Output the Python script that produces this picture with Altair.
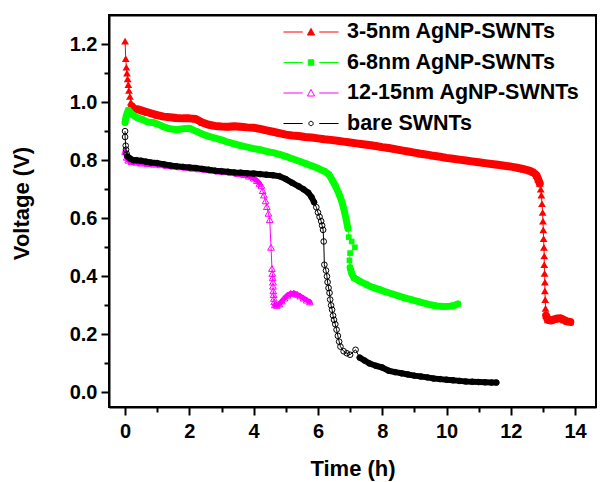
import altair as alt
import pandas as pd

SERIES = ["3-5nm AgNP-SWNTs", "6-8nm AgNP-SWNTs", "12-15nm AgNP-SWNTs", "bare SWNTs"]

X_TICKS = [0, 2, 4, 6, 8, 10, 12, 14]
X_MINOR = [1, 3, 5, 7, 9, 11, 13]
Y_TICKS = [0.0, 0.2, 0.4, 0.6, 0.8, 1.0, 1.2]
Y_MINOR = [0.1, 0.3, 0.5, 0.7, 0.9, 1.1]
X_RANGE = [-0.5, 14.65]
Y_RANGE = [-0.05, 1.3]

red_t = [0.00, 0.02, 0.04, 0.06, 0.08, 0.10, 0.12, 0.15, 0.18, 0.22, 0.28, 0.40, 0.55, 0.70, 0.85,
         1.00, 1.20, 1.40, 1.60, 1.80, 2.00, 2.20, 2.40, 2.60, 2.80, 3.00, 3.20, 3.40, 3.60, 3.80,
         4.00, 4.20, 4.40, 4.60, 4.80, 5.00, 5.20, 5.40, 5.60, 5.80, 6.00, 6.20, 6.40, 6.60, 6.80,
         7.00, 7.20, 7.40, 7.60, 7.80, 8.00, 8.20, 8.40, 8.60, 8.80, 9.00, 9.20, 9.40, 9.60, 9.80,
         10.00, 10.20, 10.40, 10.60, 10.80, 11.00, 11.20, 11.40, 11.60, 11.80, 12.00, 12.20, 12.40,
         12.60, 12.70, 12.80, 12.85, 12.90, 12.93, 12.95, 12.97, 12.99, 13.00, 13.01, 13.02, 13.03,
         13.04, 13.04, 13.05, 13.06, 13.06, 13.07, 13.08, 13.10, 13.15, 13.25, 13.35, 13.45, 13.55,
         13.65, 13.75, 13.85]
red_v = [1.21, 1.15, 1.12, 1.10, 1.08, 1.06, 1.04, 1.02, 1.00, 0.985, 0.975, 0.975, 0.970, 0.965, 0.960,
         0.955, 0.950, 0.948, 0.945, 0.944, 0.944, 0.942, 0.930, 0.922, 0.918, 0.916, 0.915, 0.917, 0.915, 0.913,
         0.912, 0.908, 0.903, 0.898, 0.893, 0.888, 0.885, 0.883, 0.880, 0.878, 0.875, 0.872, 0.870, 0.867, 0.864,
         0.861, 0.858, 0.855, 0.852, 0.849, 0.845, 0.842, 0.838, 0.834, 0.830, 0.826, 0.822, 0.819, 0.815, 0.812,
         0.808, 0.805, 0.802, 0.799, 0.796, 0.793, 0.790, 0.787, 0.784, 0.781, 0.778, 0.774, 0.769,
         0.763, 0.758, 0.748, 0.735, 0.720, 0.700, 0.680, 0.650, 0.620, 0.590, 0.560, 0.530, 0.500,
         0.470, 0.440, 0.410, 0.380, 0.350, 0.320, 0.290, 0.265, 0.250, 0.248, 0.252, 0.255, 0.256,
         0.250, 0.245, 0.243]

green_t = [0.00, 0.03, 0.06, 0.10, 0.15, 0.25, 0.40, 0.55, 0.70, 0.85, 1.00, 1.20, 1.40, 1.60, 1.80,
           2.00, 2.20, 2.40, 2.60, 2.80, 3.00, 3.20, 3.40, 3.60, 3.80, 4.00, 4.20, 4.40, 4.60, 4.80,
           5.00, 5.20, 5.40, 5.60, 5.80, 6.00, 6.20, 6.35, 6.45, 6.55, 6.65, 6.75, 6.82, 6.88, 6.93,
           6.96, 7.05, 7.15, 7.00, 6.98, 7.00, 7.05, 7.12, 7.30, 7.50, 7.70, 7.90, 8.10, 8.30, 8.50,
           8.70, 8.90, 9.10, 9.30, 9.50, 9.70, 9.90, 10.10, 10.25, 10.35]
green_v = [0.930, 0.950, 0.960, 0.972, 0.965, 0.955, 0.945, 0.940, 0.932, 0.930, 0.925, 0.915, 0.908, 0.905, 0.908,
           0.910, 0.900, 0.890, 0.882, 0.876, 0.870, 0.862, 0.856, 0.850, 0.845, 0.840, 0.836, 0.830, 0.826, 0.820,
           0.813, 0.805, 0.797, 0.789, 0.781, 0.772, 0.762, 0.750, 0.730, 0.710, 0.685, 0.655, 0.625, 0.595, 0.565,
           0.535, 0.520, 0.500, 0.480, 0.455, 0.430, 0.410, 0.395, 0.383, 0.372, 0.362, 0.355, 0.347, 0.340, 0.333,
           0.326, 0.320, 0.314, 0.308, 0.302, 0.298, 0.296, 0.297, 0.300, 0.305]

magenta_t = [0.00, 0.05, 0.10, 0.20, 0.35, 0.50, 0.70, 0.90, 1.10, 1.30, 1.50, 1.70, 1.90, 2.10, 2.30,
             2.50, 2.70, 2.90, 3.10, 3.30, 3.50, 3.70, 3.85, 4.00, 4.10, 4.18, 4.24, 4.28, 4.32, 4.37,
             4.41, 4.46, 4.50, 4.54, 4.57, 4.58, 4.59, 4.60, 4.60, 4.61, 4.62, 4.63, 4.64, 4.66, 4.72,
             4.80, 4.88, 4.96, 5.05, 5.15, 5.25, 5.35, 5.45, 5.55, 5.65, 5.75]
magenta_v = [0.830, 0.810, 0.800, 0.795, 0.793, 0.790, 0.788, 0.786, 0.784, 0.781, 0.779, 0.777, 0.775, 0.772, 0.770,
             0.768, 0.765, 0.762, 0.760, 0.757, 0.754, 0.750, 0.745, 0.738, 0.730, 0.720, 0.713, 0.695, 0.680, 0.660,
             0.640, 0.617, 0.595, 0.500, 0.427, 0.410, 0.395, 0.380, 0.366, 0.350, 0.337, 0.324, 0.312, 0.302, 0.300,
             0.305, 0.315, 0.325, 0.335, 0.341, 0.342, 0.338, 0.332, 0.325, 0.318, 0.312]

black_t = [0.00, 0.00, 0.02, 0.03, 0.05, 0.08, 0.15, 0.25, 0.35, 0.50, 0.65, 0.80, 1.00, 1.20, 1.40,
           1.60, 1.80, 2.00, 2.20, 2.40, 2.60, 2.80, 3.00, 3.20, 3.40, 3.60, 3.80, 4.00, 4.20, 4.40,
           4.60, 4.80, 5.00, 5.20, 5.40, 5.55, 5.70, 5.80, 5.88, 5.95, 6.00, 6.05, 6.10, 6.13, 6.16,
           6.18, 6.20, 6.25, 6.28, 6.30, 6.33, 6.36, 6.38, 6.41, 6.44, 6.47, 6.50, 6.54, 6.58, 6.62,
           6.66, 6.70, 6.80, 6.90, 7.00, 7.17, 7.30, 7.45, 7.60, 7.80, 8.00, 8.20, 8.40, 8.60, 8.80,
           9.00, 9.20, 9.40, 9.60, 9.80, 10.00, 10.20, 10.40, 10.60, 10.80, 11.00, 11.20, 11.40, 11.55]
black_v = [0.900, 0.880, 0.850, 0.836, 0.822, 0.812, 0.806, 0.800, 0.800, 0.798, 0.795, 0.792, 0.790, 0.786, 0.782,
           0.779, 0.777, 0.775, 0.773, 0.770, 0.767, 0.764, 0.762, 0.760, 0.758, 0.757, 0.755, 0.754, 0.752, 0.750,
           0.748, 0.745, 0.735, 0.722, 0.710, 0.700, 0.688, 0.673, 0.655, 0.638, 0.620, 0.605, 0.590, 0.575, 0.560,
           0.520, 0.440, 0.420, 0.400, 0.380, 0.360, 0.343, 0.320, 0.300, 0.285, 0.265, 0.250, 0.235, 0.216, 0.195,
           0.175, 0.158, 0.142, 0.135, 0.130, 0.147, 0.120, 0.110, 0.100, 0.092, 0.086, 0.075, 0.070, 0.066, 0.062,
           0.058, 0.055, 0.052, 0.048, 0.046, 0.044, 0.042, 0.040, 0.038, 0.037, 0.036, 0.035, 0.034, 0.034]

# style per series
COLORS = ["#ff0000", "#00ff00", "#ff00ff", "#000000"]
MARKERS = ["triangle-up", "square", "triangle-up", "circle"]
FILLED = [True, True, False, False]
SIZES = [60, 32, 45, 32]
BAND_W = [8, 7, 5, 6]                      # densely packed markers look like a thick band
BANDS = [[(9, 77), (93, 101)], [(0, 44), (50, 69)], [(0, 25), (43, 55)], [(5, 38), (66, 88)]]
LEGEND_PATHS = [
    "M-1,0H-0.3M0.3,0H1M-0.13,0.11L0,-0.13L0.13,0.11Z",
    "M-1,0H-0.3M0.3,0H1M-0.1,-0.1H0.1V0.1H-0.1Z",
    "M-1,0H-0.3M0.3,0H1M-0.13,0.11L0,-0.13L0.13,0.11Z",
    "M-1,0H-0.3M0.3,0H1M0.08,0A0.08,0.08,0,1,1,-0.08,0A0.08,0.08,0,1,1,0.08,0Z",
]
LEGEND_FILLS = ["#ff0000", "#00ff00", "transparent", "transparent"]

data = [(red_t, red_v), (green_t, green_v), (magenta_t, magenta_v), (black_t, black_v)]

FONT = "Liberation Sans"
W, H = 487, 392

xs = alt.Scale(domain=X_RANGE, nice=False, zero=False)
ys = alt.Scale(domain=Y_RANGE, nice=False, zero=False)
xaxis = alt.Axis(values=X_TICKS, title="Time (h)", labelPadding=6, titlePadding=17)
yaxis = alt.Axis(values=Y_TICKS, format=".1f", title="Voltage (V)", labelPadding=4, titlePadding=36, titleY=188)
XE = alt.X("t:Q", scale=xs, axis=xaxis)
YE = alt.Y("v:Q", scale=ys, axis=yaxis)

# ---- main layer: data curves + legend, with the bottom/left axes
main_layers = []
for k, (tt, vv) in enumerate(data):
    df = pd.DataFrame({"t": tt, "v": vv, "i": list(range(len(tt)))})
    base = alt.Chart(df)
    for (a, b) in BANDS[k]:
        band = base.transform_filter(alt.FieldRangePredicate(field="i", range=[a, b])).mark_line(
            strokeWidth=BAND_W[k], color=COLORS[k], strokeJoin="round", strokeCap="round"
        ).encode(x=XE, y=YE, order="i:Q")
        main_layers.append(band)
    line = base.mark_line(strokeWidth=1, color=COLORS[k]).encode(x=XE, y=YE, order="i:Q")
    pts = base.mark_point(shape=MARKERS[k], filled=FILLED[k], size=SIZES[k], color=COLORS[k],
                          strokeWidth=1, opacity=1).encode(x=XE, y=YE)
    main_layers += [line, pts]

leg = alt.Legend(title=None, orient="none", legendX=174, legendY=7, symbolSize=3025, symbolStrokeWidth=1,
                 clipHeight=20, rowPadding=8.5, labelFont=FONT, labelFontSize=21.5, labelFontWeight="bold",
                 labelColor="black", labelOffset=8, padding=0, symbolOpacity=1, labelLimit=400)
legdf = pd.DataFrame({"series": SERIES})
legend_layer = alt.Chart(legdf).transform_filter("false").mark_point().encode(
    shape=alt.Shape("series:N", scale=alt.Scale(domain=SERIES, range=LEGEND_PATHS), legend=leg),
    fill=alt.Fill("series:N", scale=alt.Scale(domain=SERIES, range=LEGEND_FILLS), legend=leg),
    stroke=alt.Stroke("series:N", scale=alt.Scale(domain=SERIES, range=COLORS), legend=leg),
)
main_layers.append(legend_layer)
main = alt.layer(*main_layers)

# ---- frame: top and right edges as extra axes (domain line only), no marks drawn
frame_df = pd.DataFrame({"t": X_RANGE, "v": Y_RANGE})
frame = alt.Chart(frame_df).transform_filter("false").mark_point().encode(
    x=alt.X("t:Q", scale=xs, axis=alt.Axis(orient="top", labels=False, ticks=False, domain=True,
                                           title=None, grid=False)),
    y=alt.Y("v:Q", scale=ys, axis=alt.Axis(orient="right", labels=False, ticks=False, domain=True,
                                           title=None, grid=False)),
)

# ---- minor ticks as extra unlabelled axes on the bottom and left
minor_df = pd.DataFrame({"t": X_MINOR[:6], "v": Y_MINOR})
minor = alt.Chart(minor_df).transform_filter("false").mark_point().encode(
    x=alt.X("t:Q", scale=xs, axis=alt.Axis(orient="bottom", values=X_MINOR, labels=False, ticks=True,
                                           domain=False, tickSize=5, title=None, grid=False)),
    y=alt.Y("v:Q", scale=ys, axis=alt.Axis(orient="left", values=Y_MINOR, labels=False, ticks=True,
                                           domain=False, tickSize=5, title=None, grid=False)),
)

chart = alt.layer(main, frame, minor).resolve_axis(x="independent", y="independent").properties(
    width=W, height=H,
    autosize=alt.AutoSizeParams(type="none"),
    padding={"left": 101, "top": 7, "right": 1, "bottom": 75},
).configure_view(stroke="black", strokeWidth=2).configure_axis(
    labelFont=FONT, labelFontSize=20, labelFontWeight="bold", labelColor="black",
    titleFont=FONT, titleFontSize=22, titleFontWeight="bold", titleColor="black",
    domainColor="black", domainWidth=2, tickColor="black", tickWidth=2, tickSize=8, grid=False,
)

chart.save("out.html", embed_options={"renderer": "svg", "actions": False})
